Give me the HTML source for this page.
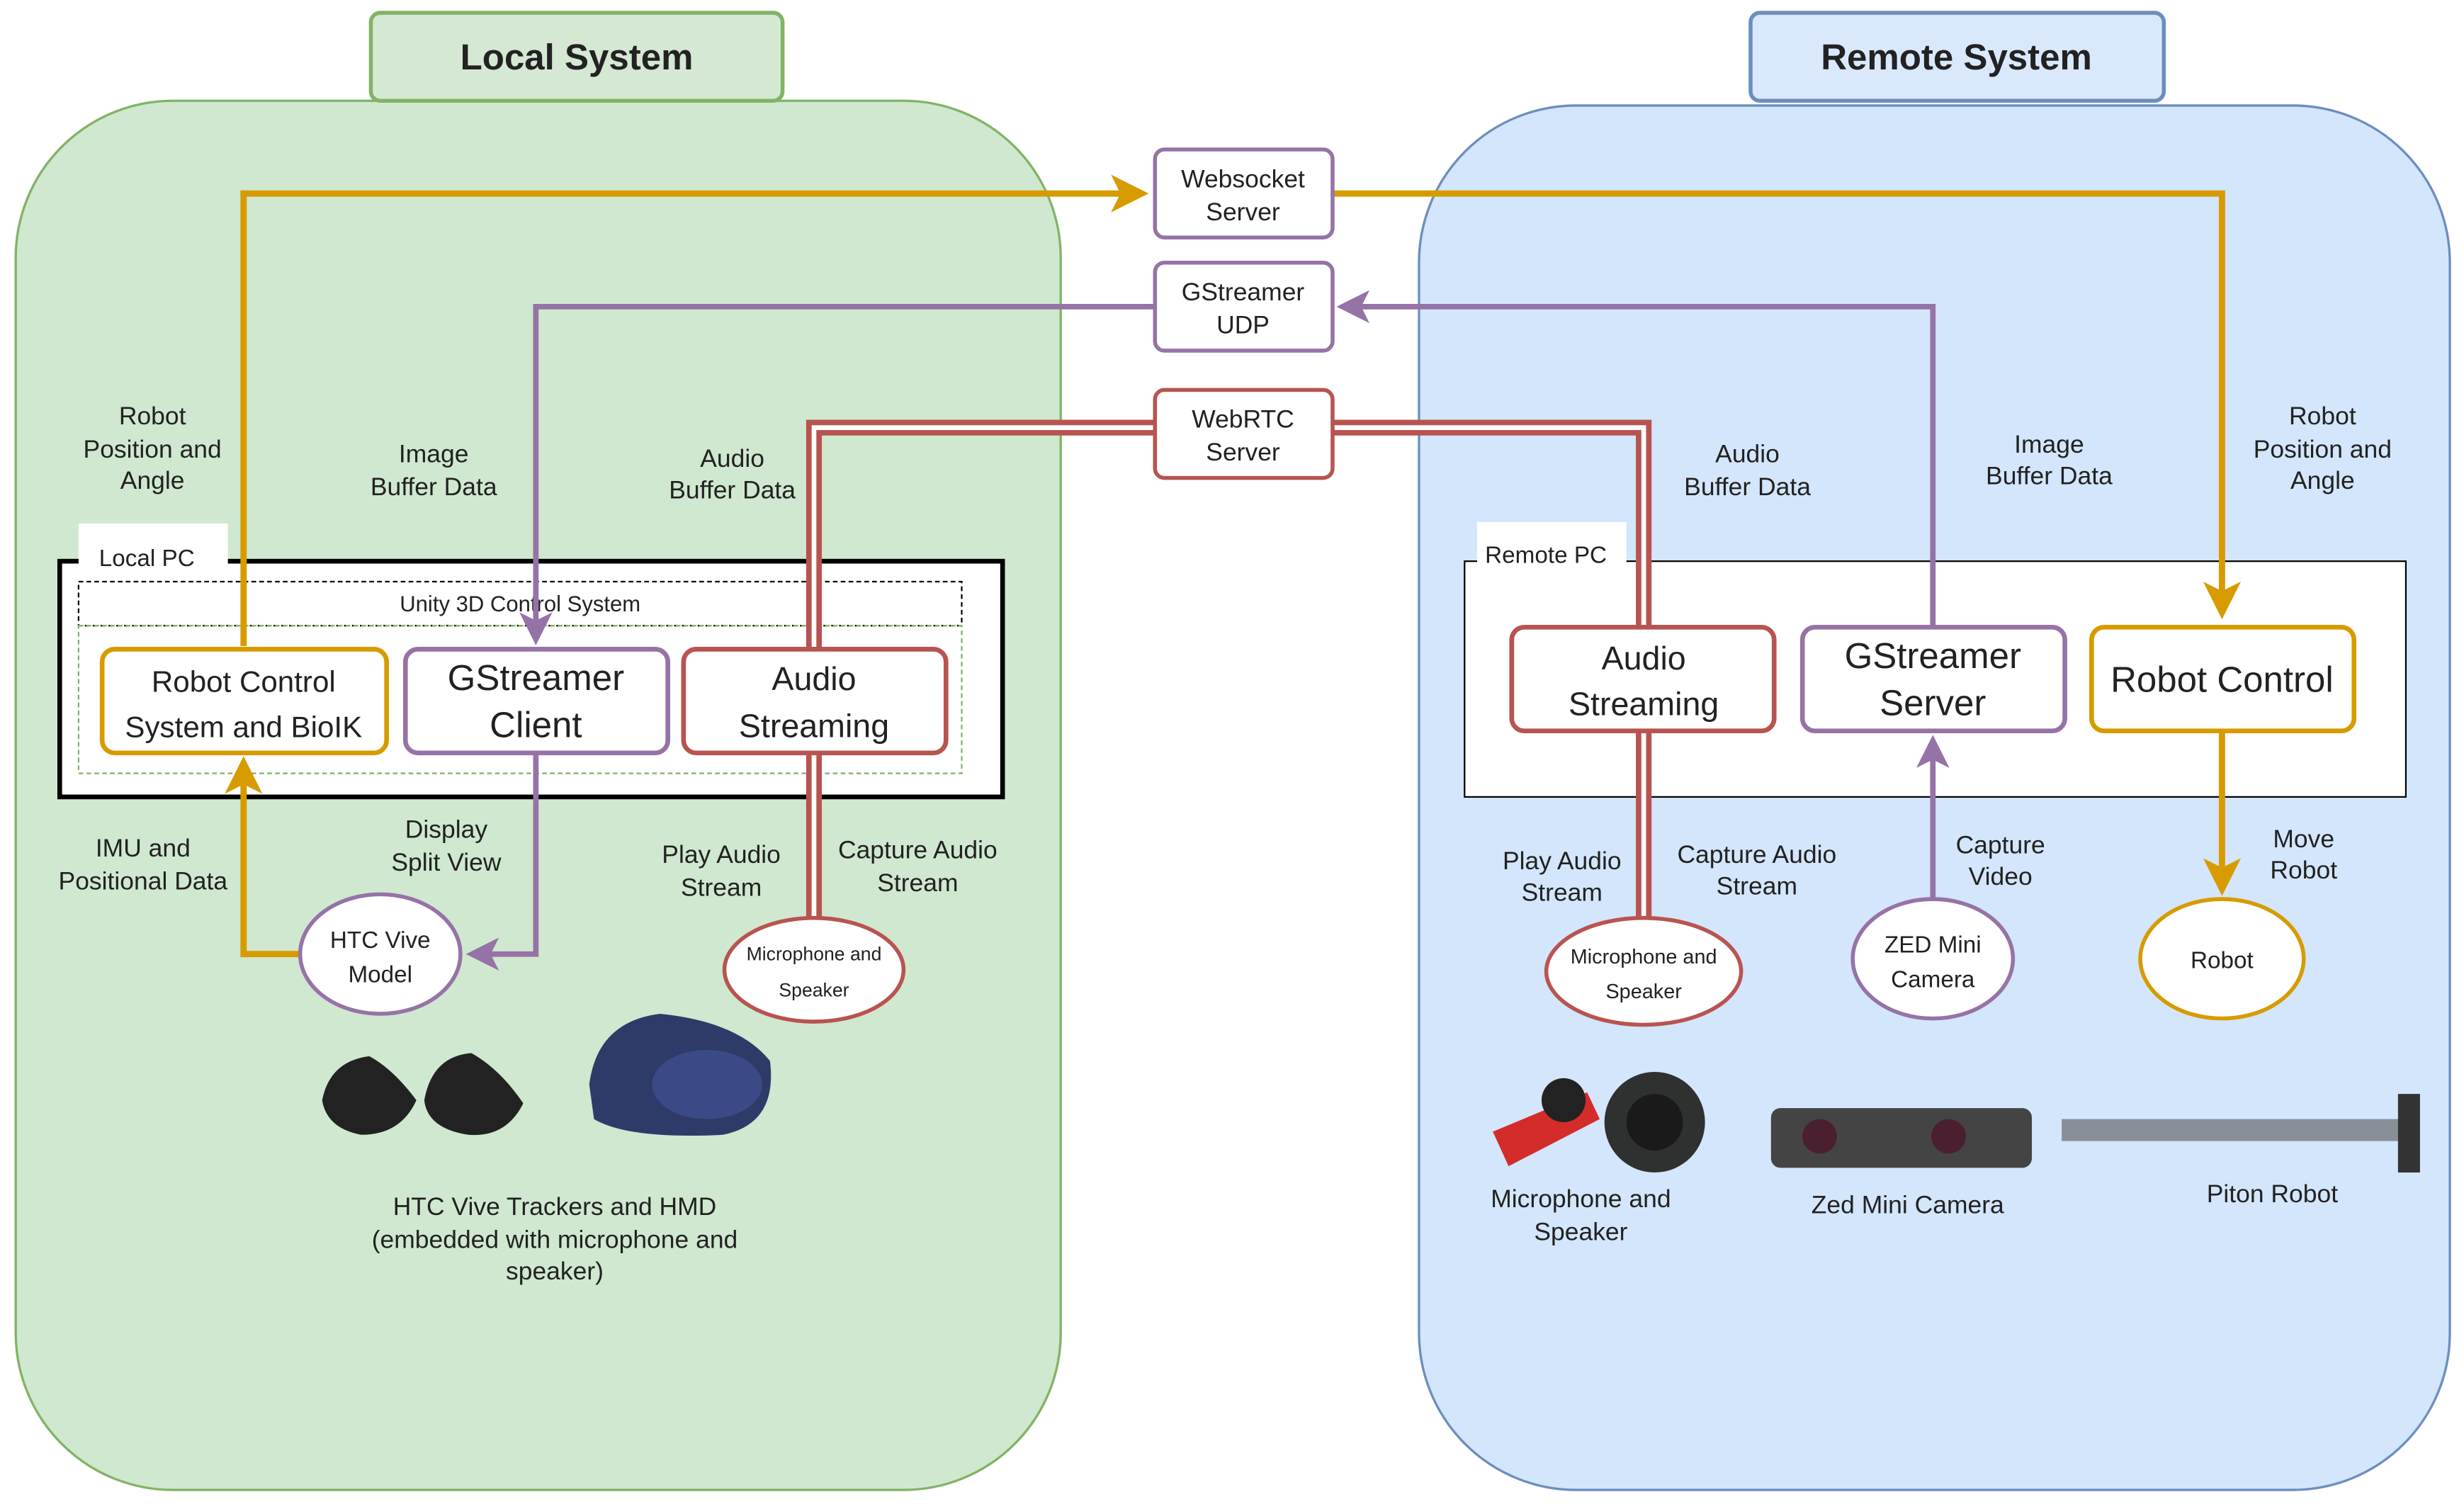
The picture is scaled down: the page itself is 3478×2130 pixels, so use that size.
<!DOCTYPE html>
<html><head><style>html,body{margin:0;padding:0;background:#fff}svg{display:block}text{font-family:"Liberation Sans",sans-serif;fill:#222}</style></head>
<body>
<svg width="3478" height="2130" viewBox="0 0 1568 960" xmlns="http://www.w3.org/2000/svg">
<defs>
<marker id="ao" markerWidth="6" markerHeight="6" refX="5" refY="3" orient="auto" markerUnits="strokeWidth"><path d="M0,0 L6,3 L0,6 L1.5,3z" fill="#d79b00"/></marker>
<marker id="ap" markerWidth="6" markerHeight="6" refX="5" refY="3" orient="auto" markerUnits="strokeWidth"><path d="M0,0 L6,3 L0,6 L1.5,3z" fill="#9673a6"/></marker>
</defs>
<rect x="0" y="0" width="1568" height="960" fill="#fff"/>
<!-- regions -->
<rect x="10" y="64" width="665" height="884" rx="100" fill="#d0e8cf" stroke="#82b366" stroke-width="1.5"/>
<rect x="903" y="67" width="656" height="881" rx="100" fill="#d4e6fb" stroke="#6c8ebf" stroke-width="1.5"/>
<rect x="236" y="8" width="262" height="56" rx="6" fill="#d5e8d4" stroke="#82b366" stroke-width="2.5"/>
<text x="367" y="44" font-size="23" font-weight="bold" text-anchor="middle">Local System</text>
<rect x="1114" y="8" width="263" height="56" rx="6" fill="#dae8fc" stroke="#6c8ebf" stroke-width="2.5"/>
<text x="1245" y="44" font-size="23" font-weight="bold" text-anchor="middle">Remote System</text>

<!-- PC boxes -->
<rect x="38" y="357" width="600" height="150" fill="#fff" stroke="#000" stroke-width="3"/>
<rect x="50" y="333" width="95" height="30" fill="#fff"/>
<text x="63" y="360" font-size="15">Local PC</text>
<rect x="50" y="370" width="562" height="28" fill="#fff" stroke="#000" stroke-width="1" stroke-dasharray="3,2"/>
<text x="331" y="389" font-size="14" text-anchor="middle">Unity 3D Control System</text>
<rect x="50" y="398" width="562" height="94" fill="none" stroke="#82b366" stroke-width="1" stroke-dasharray="3,2"/>
<rect x="932" y="357" width="599" height="150" fill="#fff" stroke="#000" stroke-width="1"/>
<rect x="940" y="332" width="95" height="30" fill="#fff"/>
<text x="945" y="358" font-size="15">Remote PC</text>

<!-- orange lines -->
<g fill="none" stroke="#d79b00" stroke-width="4">
<polyline points="155,411 155,123 727,123" marker-end="url(#ao)"/>
<polyline points="848,123 1414,123 1414,390" marker-end="url(#ao)"/>
<polyline points="191,607 155,607 155,485" marker-end="url(#ao)"/>
<polyline points="1414,465 1414,566" marker-end="url(#ao)"/>
</g>
<!-- purple -->
<g fill="none" stroke="#9673a6" stroke-width="3.5">
<polyline points="735,195 341,195 341,407" marker-end="url(#ap)"/>
<polyline points="1230,398 1230,195 854,195" marker-end="url(#ap)"/>
<polyline points="341,479 341,607 300,607" marker-end="url(#ap)"/>
<polyline points="1230,572 1230,471" marker-end="url(#ap)"/>
</g>
<!-- red double -->
<g fill="none" stroke-linejoin="miter">
<polyline points="518,413 518,272 735,272" stroke="#b85450" stroke-width="10"/>
<polyline points="518,413 518,272 735,272" stroke="#fff" stroke-width="3"/>
<polyline points="848,272 1046,272 1046,399" stroke="#b85450" stroke-width="10"/>
<polyline points="848,272 1046,272 1046,399" stroke="#fff" stroke-width="3"/>
<polyline points="518,479 518,584" stroke="#b85450" stroke-width="10"/>
<polyline points="518,479 518,584" stroke="#fff" stroke-width="3"/>
<polyline points="1046,465 1046,584" stroke="#b85450" stroke-width="10"/>
<polyline points="1046,465 1046,584" stroke="#fff" stroke-width="3"/>
</g>

<!-- server boxes -->
<g font-size="16" text-anchor="middle">
<rect x="735" y="95" width="113" height="56" rx="6" fill="#fff" stroke="#9673a6" stroke-width="2.5"/>
<text x="791" y="119">Websocket</text><text x="791" y="140">Server</text>
<rect x="735" y="167" width="113" height="56" rx="6" fill="#fff" stroke="#9673a6" stroke-width="2.5"/>
<text x="791" y="191">GStreamer</text><text x="791" y="212">UDP</text>
<rect x="735" y="248" width="113" height="56" rx="6" fill="#fff" stroke="#b85450" stroke-width="2.5"/>
<text x="791" y="272">WebRTC</text><text x="791" y="293">Server</text>
</g>

<!-- component boxes -->
<g text-anchor="middle">
<rect x="65" y="413" width="181" height="66" rx="8" fill="#fff" stroke="#d79b00" stroke-width="3"/>
<text x="155" y="440" font-size="19">Robot Control</text><text x="155" y="469" font-size="19">System and BioIK</text>
<rect x="258" y="413" width="167" height="66" rx="8" fill="#fff" stroke="#9673a6" stroke-width="3"/>
<text x="341" y="439" font-size="23">GStreamer</text><text x="341" y="469" font-size="23">Client</text>
<rect x="435" y="413" width="167" height="66" rx="8" fill="#fff" stroke="#b85450" stroke-width="3"/>
<text x="518" y="439" font-size="21">Audio</text><text x="518" y="469" font-size="21">Streaming</text>
<rect x="962" y="399" width="167" height="66" rx="8" fill="#fff" stroke="#b85450" stroke-width="3"/>
<text x="1046" y="426" font-size="21">Audio</text><text x="1046" y="455" font-size="21">Streaming</text>
<rect x="1147" y="399" width="167" height="66" rx="8" fill="#fff" stroke="#9673a6" stroke-width="3"/>
<text x="1230" y="425" font-size="23">GStreamer</text><text x="1230" y="455" font-size="23">Server</text>
<rect x="1331" y="399" width="167" height="66" rx="8" fill="#fff" stroke="#d79b00" stroke-width="3"/>
<text x="1414" y="440" font-size="23">Robot Control</text>
</g>

<!-- ellipses -->
<g text-anchor="middle">
<ellipse cx="242" cy="607" rx="51" ry="38" fill="#fff" stroke="#9673a6" stroke-width="2.5"/>
<text x="242" y="603" font-size="15">HTC Vive</text><text x="242" y="625" font-size="15">Model</text>
<ellipse cx="518" cy="617" rx="57" ry="33" fill="#fff" stroke="#b85450" stroke-width="2.5"/>
<text x="518" y="611" font-size="12">Microphone and</text><text x="518" y="634" font-size="12">Speaker</text>
<ellipse cx="1046" cy="618" rx="62" ry="34" fill="#fff" stroke="#b85450" stroke-width="2.5"/>
<text x="1046" y="613" font-size="13">Microphone and</text><text x="1046" y="635" font-size="13">Speaker</text>
<ellipse cx="1230" cy="610" rx="51" ry="38" fill="#fff" stroke="#9673a6" stroke-width="2.5"/>
<text x="1230" y="606" font-size="15">ZED Mini</text><text x="1230" y="628" font-size="15">Camera</text>
<ellipse cx="1414" cy="610" rx="52" ry="38" fill="#fff" stroke="#d79b00" stroke-width="2.5"/>
<text x="1414" y="616" font-size="15">Robot</text>
</g>

<!-- labels -->
<g font-size="16" text-anchor="middle">
<text x="97" y="270">Robot</text><text x="97" y="291">Position and</text><text x="97" y="311">Angle</text>
<text x="276" y="294">Image</text><text x="276" y="315">Buffer Data</text>
<text x="466" y="297">Audio</text><text x="466" y="317">Buffer Data</text>
<text x="1112" y="294">Audio</text><text x="1112" y="315">Buffer Data</text>
<text x="1304" y="288">Image</text><text x="1304" y="308">Buffer Data</text>
<text x="1478" y="270">Robot</text><text x="1478" y="291">Position and</text><text x="1478" y="311">Angle</text>
<text x="91" y="545">IMU and</text><text x="91" y="566">Positional Data</text>
<text x="284" y="533">Display</text><text x="284" y="554">Split View</text>
<text x="459" y="549">Play Audio</text><text x="459" y="570">Stream</text>
<text x="584" y="546">Capture Audio</text><text x="584" y="567">Stream</text>
<text x="994" y="553">Play Audio</text><text x="994" y="573">Stream</text>
<text x="1118" y="549">Capture Audio</text><text x="1118" y="569">Stream</text>
<text x="1273" y="543">Capture</text><text x="1273" y="563">Video</text>
<text x="1466" y="539">Move</text><text x="1466" y="559">Robot</text>
<text x="353" y="773">HTC Vive Trackers and HMD</text>
<text x="353" y="794">(embedded with microphone and</text>
<text x="353" y="814">speaker)</text>
<text x="1006" y="768">Microphone and</text><text x="1006" y="789">Speaker</text>
<text x="1214" y="772">Zed Mini Camera</text>
<text x="1446" y="765">Piton Robot</text>
</g>

<!-- device images approximations -->
<g>
<path d="M205,700 Q210,675 235,672 Q250,680 265,700 Q255,722 230,722 Q208,718 205,700z" fill="#222"/>
<path d="M270,700 Q275,672 300,670 Q318,680 333,702 Q322,724 298,722 Q272,718 270,700z" fill="#222"/>
<path d="M375,690 Q380,650 420,645 Q470,650 490,675 Q495,715 460,722 Q400,725 378,712z" fill="#2e3a68"/>
<ellipse cx="450" cy="690" rx="35" ry="22" fill="#3b4a86"/>
<path d="M950,720 L1010,695 L1018,712 L960,742z" fill="#d42b2b"/>
<circle cx="995" cy="700" r="14" fill="#222"/>
<circle cx="1053" cy="714" r="32" fill="#2f3030"/><circle cx="1053" cy="714" r="18" fill="#1a1a1a"/>
<rect x="1127" y="705" width="166" height="38" rx="6" fill="#444"/>
<circle cx="1158" cy="723" r="11" fill="#4a2030"/><circle cx="1240" cy="723" r="11" fill="#4a2030"/>
<rect x="1312" y="712" width="220" height="14" fill="#555" opacity="0.6"/>
<rect x="1526" y="696" width="14" height="50" fill="#333"/>
</g>
</svg>
</body></html>
